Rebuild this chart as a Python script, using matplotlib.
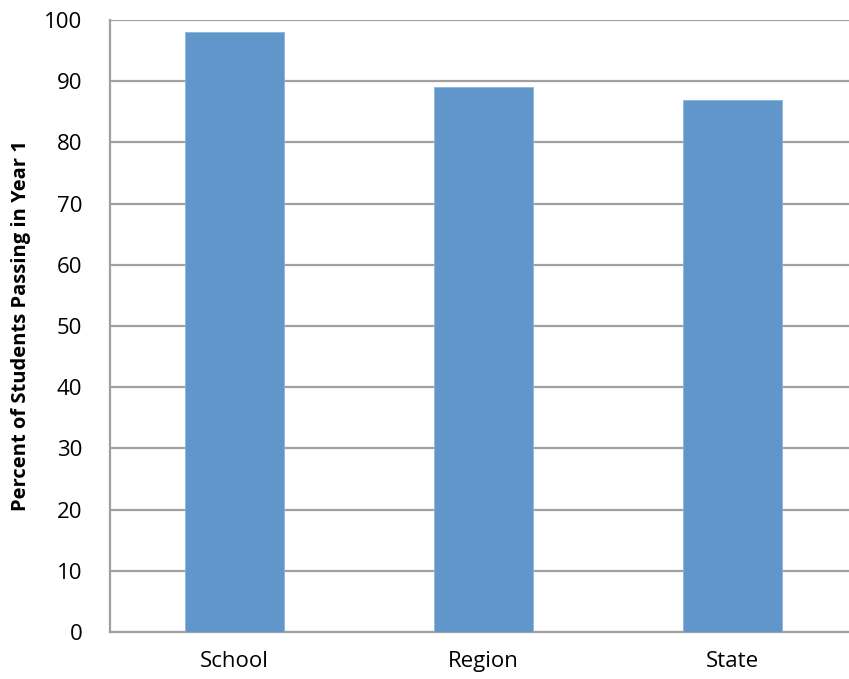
import matplotlib
matplotlib.use('Agg')
import matplotlib.pyplot as plt

## Chart data.
categories = ['School', 'Region', 'State']
percent_passing = [98, 89, 87]
y_ticks = [0, 10, 20, 30, 40, 50, 60, 70, 80, 90, 100]

plt.rcParams['font.family'] = ['Open Sans', 'DejaVu Sans']

fig = plt.figure(figsize=(8.49, 6.79), dpi=100)
## Plot area runs slightly past the right edge of the image, like the original.
ax = fig.add_axes([110 / 849, 47 / 679, (857 - 110) / 849, (632 - 20) / 679])

ax.bar(range(len(categories)), percent_passing, width=0.4, color='#6096C9',
       edgecolor='#8FB4DB', linewidth=0.6, zorder=3)

ax.set_xlim(-0.5, len(categories) - 0.5)
ax.set_ylim(0, 100)
ax.set_yticks(y_ticks)
ax.set_xticks(range(len(categories)))
ax.set_xticklabels(categories)

ax.grid(axis='y', color='#A0A0A0', linewidth=1.6, zorder=0)
ax.tick_params(axis='both', length=0, labelsize=16, colors='black')
ax.tick_params(axis='y', pad=20)
ax.tick_params(axis='x', pad=14)

for side in ['top', 'right']:
  ax.spines[side].set_visible(False)
ax.spines['left'].set_color('#A0A0A0')
ax.spines['left'].set_linewidth(1.6)
ax.spines['bottom'].set_color('#A0A0A0')
ax.spines['bottom'].set_linewidth(1.6)

ax.set_ylabel('Percent of Students Passing in Year 1', fontsize=14.5,
              fontweight='bold', labelpad=9)

fig.savefig('out.png', dpi=100)
